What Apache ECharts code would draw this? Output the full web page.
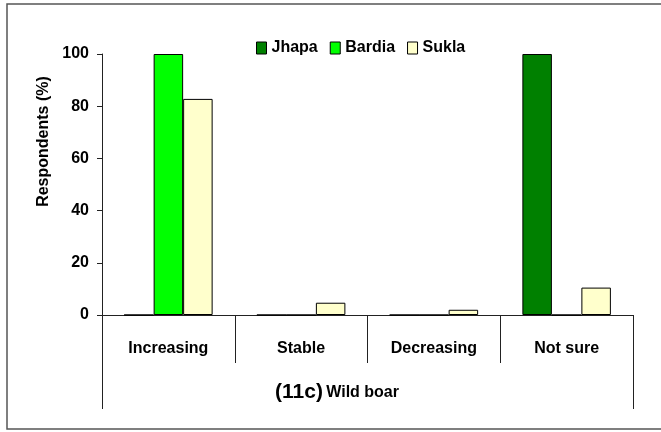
<!DOCTYPE html>
<html>
<head>
<meta charset="utf-8">
<script src="https://cdn.jsdelivr.net/npm/echarts@6/dist/echarts.min.js"></script>
<style>html,body{margin:0;padding:0;background:#fff}#c{width:661px;height:432px}</style>
</head>
<body>
<div id="c"></div>
<script>
const categories = ['Increasing', 'Stable', 'Decreasing', 'Not sure'];
const groupLabel = ['(11c) Wild boar'];
const seriesNames = ['Jhapa', 'Bardia', 'Sukla'];
const jhapa = [0, 0, 0, 100];
const bardia = [100, 0, 0, 0];
const sukla = [82.8, 4.7, 2.0, 10.5];
const colors = ['#008000', '#00FF00', '#FFFFCC'];

const FONT = "'Liberation Sans', Arial, sans-serif";
const chart = echarts.init(document.getElementById('c'), null, {renderer: 'canvas'});
const mk = (name, data, color) => ({
  name, type: 'bar', data, barWidth: 29.5, barGap: '0%',
  itemStyle: {color, borderColor: '#000', borderWidth: 1},
  emphasis: {disabled: true}
});
chart.setOption({
  animation: false,
  backgroundColor: '#fff',
  textStyle: {fontFamily: FONT},
  graphic: [{
    type: 'rect', shape: {x: 7, y: 4, width: 670, height: 425},
    style: {fill: 'none', stroke: '#555', lineWidth: 1.5}, silent: true
  }],
  legend: {
    data: seriesNames, left: 251, top: 35, itemWidth: 10, itemHeight: 12, itemGap: 12,
    icon: 'rect',
    itemStyle: {borderColor: '#000', borderWidth: 1},
    textStyle: {fontFamily: FONT, fontWeight: 'bold', fontSize: 16, color: '#000'}
  },
  grid: {left: 102, right: 28, top: 54, bottom: 117, containLabel: false},
  xAxis: [{
    type: 'category', data: categories, position: 'bottom',
    axisLine: {lineStyle: {color: '#222', width: 1}},
    axisTick: {show: true, interval: 0, length: 48, alignWithLabel: false, lineStyle: {color: '#222'}},
    axisLabel: {interval: 0, margin: 26, color: '#000', fontWeight: 'bold', fontSize: 16, fontFamily: FONT}
  }, {
    type: 'category', data: groupLabel, position: 'bottom',
    axisLine: {show: false},
    axisTick: {show: true, length: 94, alignWithLabel: false, lineStyle: {color: '#222'}},
    axisLabel: {
      interval: 0, margin: 67, color: '#000', fontFamily: FONT,
      formatter: v => { const i = v.indexOf(' '); return '{a|' + v.slice(0, i) + '} {b|' + v.slice(i + 1) + '}'; },
      rich: {
        a: {fontSize: 21, fontWeight: 'bold', fontFamily: FONT, color: '#000'},
        b: {fontSize: 16, fontWeight: 'bold', fontFamily: FONT, color: '#000'}
      },
      padding: [0, 61, 0, 0]
    }
  }],
  yAxis: {
    type: 'value', min: 0, max: 100, interval: 20,
    name: 'Respondents (%)', nameLocation: 'middle', nameGap: 50, nameRotate: 90,
    nameTextStyle: {fontFamily: FONT, fontWeight: 'bold', fontSize: 16, color: '#000', padding: [0, 0, 0, 86]},
    axisLine: {show: true, lineStyle: {color: '#222', width: 1}},
    axisTick: {show: true, length: 5, lineStyle: {color: '#222'}},
    splitLine: {show: false},
    axisLabel: {margin: 13, color: '#000', fontWeight: 'bold', fontSize: 16, fontFamily: FONT}
  },
  series: [mk(seriesNames[0], jhapa, colors[0]), mk(seriesNames[1], bardia, colors[1]), mk(seriesNames[2], sukla, colors[2])]
});
</script>
</body>
</html>
